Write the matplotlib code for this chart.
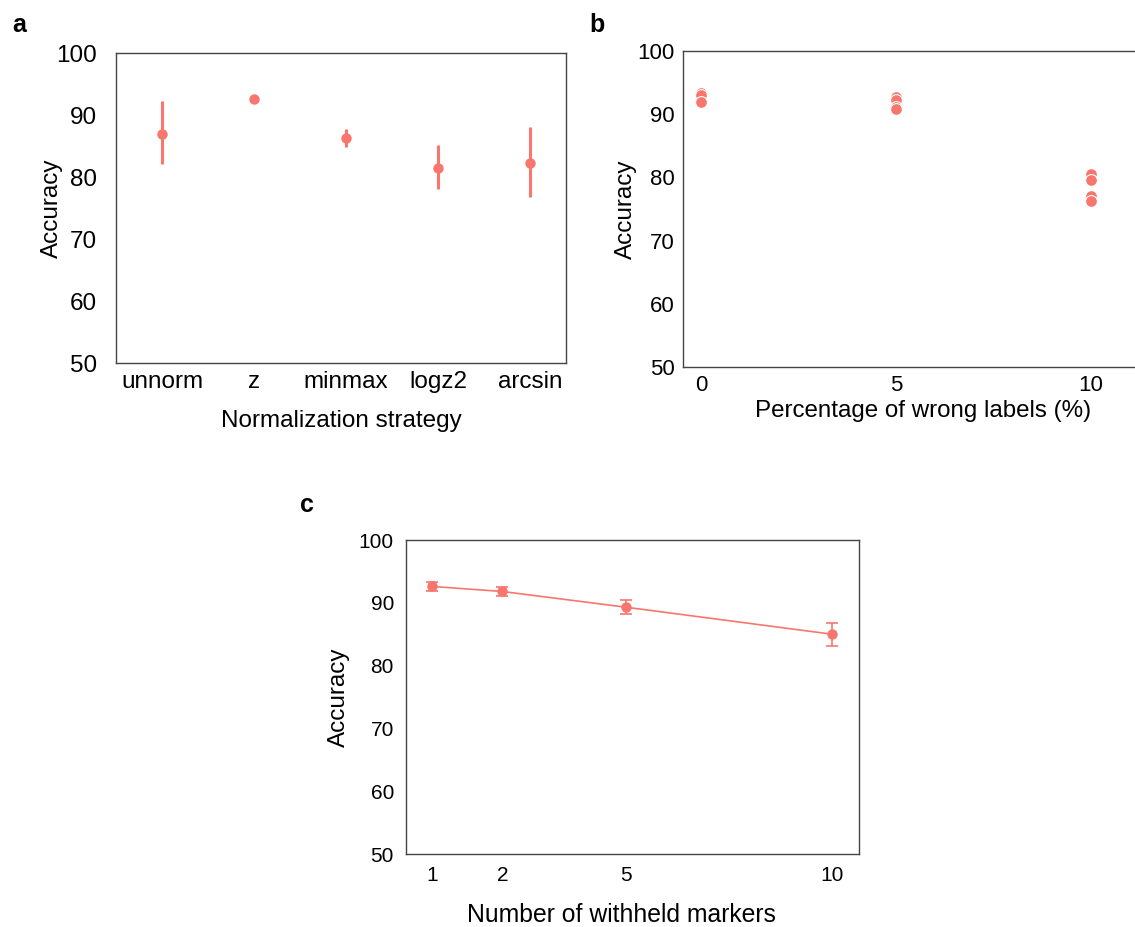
import matplotlib
matplotlib.use("Agg")
import matplotlib.pyplot as plt

plt.rcParams['font.family'] = ['Liberation Sans', 'DejaVu Sans']

red = '#F8766D'

# panel a
strategies = ['unnorm', 'z', 'minmax', 'logz2', 'arcsin']
acc_a = [87.0, 92.6, 86.3, 81.5, 82.3]
lo_a = [82.1, 92.6, 84.9, 78.1, 76.8]
hi_a = [92.3, 92.6, 87.8, 85.2, 88.0]

# panel b
wrong_pct = [0, 0, 0, 5, 5, 5, 5, 10, 10, 10, 10]
acc_b = [93.3, 93.0, 92.0, 92.7, 92.3, 91.1, 90.8, 80.6, 79.6, 77.0, 76.3]

# panel c
withheld = ['1', '2', '5', '10']
acc_c = [92.6, 91.8, 89.3, 85.0]
err_c = [0.65, 0.7, 1.15, 1.8]
pos_c = [0.3, 2, 5, 10]

fig = plt.figure(figsize=(11.35, 9.27), dpi=100)

def style(ax, fs, pad):
    for s in ax.spines.values():
        s.set_color('#444444')
        s.set_linewidth(1.0)
    ax.tick_params(length=0, labelsize=fs, pad=pad)
    ax.set_ylim(50, 100)
    ax.set_yticks([50, 60, 70, 80, 90, 100])

# a
ax1 = fig.add_axes([116/1135, 1-363/927, 450/1135, 310/927])
xa = list(range(len(strategies)))
ax1.vlines(xa, lo_a, hi_a, color=red, lw=2.2)
ax1.plot(xa, acc_a, 'o', color=red, ms=7.5, mec='none')
ax1.set_xticks(xa)
ax1.set_xticklabels(strategies)
ax1.set_xlim(-0.5, 4.39)
style(ax1, 17.5, 6)
ax1.tick_params(axis='y', pad=13.5)
ax1.set_xlabel('Normalization strategy', fontsize=17.5, labelpad=12)
ax1.set_ylabel('Accuracy', fontsize=17.5, labelpad=-5)

# b (right part runs off the figure edge, as in the original)
ax2 = fig.add_axes([683/1135, 1-367/927, 480/1135, 316/927])
ax2.plot(wrong_pct, acc_b, 'o', color=red, ms=8.5, mec='white', mew=0.8)
ax2.set_xticks([0, 5, 10])
ax2.set_xlim(-0.46, 11.85)
style(ax2, 16, 6)
ax2.set_xlabel('Percentage of wrong labels (%)', fontsize=17.4, labelpad=3)
ax2.set_ylabel('Accuracy', fontsize=17.5, labelpad=0)

# c
ax3 = fig.add_axes([405.7/1135, 1-854/927, 453.3/1135, 314/927])
ax3.errorbar(pos_c, acc_c, yerr=err_c, color=red, lw=1.2, marker='o', ms=7.5,
             mec='none', capsize=4, elinewidth=1.2, capthick=1.2)
ax3.set_xticks(pos_c)
ax3.set_xticklabels(withheld)
ax3.set_xlim(-0.35, 10.66)
style(ax3, 15, 8.5)
ax3.set_xlabel('Number of withheld markers', fontsize=17.8, labelpad=16)
ax3.xaxis.set_label_coords(0.475, -0.155)
ax3.set_ylabel('Accuracy', fontsize=17.5, labelpad=6)

fig.text(12/1135, 1-25/927, 'a', fontsize=18, fontweight='bold', va='center')
fig.text(589/1135, 1-25/927, 'b', fontsize=18, fontweight='bold', va='center')
fig.text(300/1135, 1-505/927, 'c', fontsize=18, fontweight='bold', va='center')

fig.savefig('out.png', dpi=100)
